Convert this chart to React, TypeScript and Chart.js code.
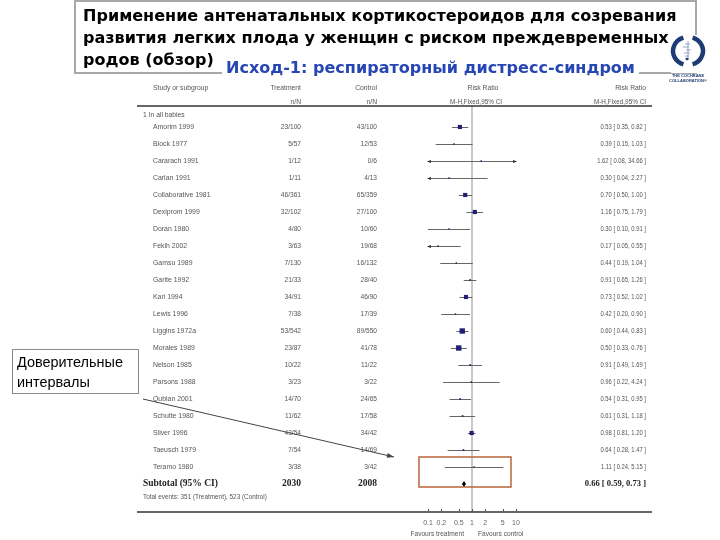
import React, { useEffect, useRef } from "react";
import { Chart, registerables } from "chart.js";

Chart.register(...registerables);

// ---------- data ----------
const studies = [
  "Amorim 1999", "Block 1977", "Cararach 1991", "Carlan 1991", "Collaborative 1981",
  "Dexiprom 1999", "Doran 1980", "Fekih 2002", "Gamsu 1989", "Garite 1992",
  "Kari 1994", "Lewis 1996", "Liggins 1972a", "Morales 1989", "Nelson 1985",
  "Parsons 1988", "Qublan 2001", "Schutte 1980", "Silver 1996", "Taeusch 1979", "Teramo 1980",
];
const treatment = [
  "23/100", "5/57", "1/12", "1/11", "46/361", "32/102", "4/80", "3/63", "7/130", "21/33",
  "34/91", "7/38", "53/542", "23/87", "10/22", "3/23", "14/70", "11/62", "43/54", "7/54", "3/38",
];
const control = [
  "43/100", "12/53", "0/6", "4/13", "65/359", "27/100", "10/60", "19/68", "16/132", "28/40",
  "46/90", "17/39", "89/550", "41/78", "11/22", "3/22", "24/65", "17/58", "34/42", "14/69", "3/42",
];
const riskRatio = [0.53, 0.39, 1.62, 0.30, 0.70, 1.16, 0.30, 0.17, 0.44, 0.91, 0.73, 0.42, 0.60, 0.50, 0.91, 0.96, 0.54, 0.61, 0.98, 0.64, 1.11];
const ciLow = [0.35, 0.15, 0.08, 0.04, 0.50, 0.75, 0.10, 0.05, 0.19, 0.65, 0.52, 0.20, 0.44, 0.33, 0.49, 0.22, 0.31, 0.31, 0.81, 0.28, 0.24];
const ciHigh = [0.82, 1.03, 34.66, 2.27, 1.00, 1.79, 0.91, 0.55, 1.04, 1.26, 1.02, 0.90, 0.83, 0.76, 1.69, 4.24, 0.95, 1.18, 1.20, 1.47, 5.15];
// relative weights
const weights = [12, 1, 1, 1, 12, 12, 1, 1, 1, 2, 12, 1, 20, 20, 2, 1, 2, 2, 12, 2, 1];
const subtotalRR = [0.66, 0.59, 0.73];
const subtotalN = ["2030", "2008"];
const totalEvents = [351, 523];
const xTicks = [0.1, 0.2, 0.5, 1, 2, 5, 10];

// ---------- helpers ----------
const NAVY = "#1f1f78";
const GRAY_TXT = "#555";
const fmt = (v: number) => v.toFixed(2);

function txt(
  ctx: CanvasRenderingContext2D, s: string, x: number, y: number,
  align: CanvasTextAlign, font: string, color: string, sx = 1
) {
  ctx.save();
  ctx.font = font;
  ctx.fillStyle = color;
  ctx.textAlign = align;
  ctx.textBaseline = "middle";
  ctx.translate(x, y);
  ctx.scale(sx, 1);
  ctx.fillText(s, 0, 0);
  ctx.restore();
}

function fitBold(ctx: CanvasRenderingContext2D, s: string, family: string, base: number, target: number) {
  ctx.save();
  ctx.font = `bold ${base}px ${family}`;
  const w = ctx.measureText(s).width;
  ctx.restore();
  return base * target / w;
}

function drawLogo(ctx: CanvasRenderingContext2D, cx: number, cy: number) {
  ctx.save();
  ctx.fillStyle = "#fff";
  ctx.fillRect(cx - 17, cy - 16, 40, 38);
  ctx.strokeStyle = "#1d3c74";
  ctx.lineWidth = 4.5;
  ctx.beginPath();
  ctx.ellipse(cx, cy, 15, 14, 0, Math.PI * 0.6, Math.PI * 1.4);
  ctx.stroke();
  ctx.beginPath();
  ctx.ellipse(cx, cy, 15, 14, 0, -Math.PI * 0.4, Math.PI * 0.4);
  ctx.stroke();
  ctx.strokeStyle = "#7f95bd";
  ctx.lineWidth = 0.8;
  ctx.beginPath();
  ctx.moveTo(cx, cy - 10);
  ctx.lineTo(cx, cy + 9);
  const bars = [[-7, -3, 2], [-4, -5, 1], [-1, -2, 3], [2, -4, 2], [5, -3, 1]];
  bars.forEach(([dy, a, b]) => {
    ctx.moveTo(cx + a, cy + dy);
    ctx.lineTo(cx + b, cy + dy);
  });
  ctx.stroke();
  ctx.fillStyle = "#1d3c74";
  ctx.beginPath();
  ctx.moveTo(cx - 3, cy + 8);
  ctx.lineTo(cx - 1, cy + 6.5);
  ctx.lineTo(cx + 1, cy + 8);
  ctx.lineTo(cx - 1, cy + 9.5);
  ctx.closePath();
  ctx.fill();
  ctx.font = 'bold 4px "Liberation Sans"';
  ctx.textAlign = "center";
  ctx.textBaseline = "middle";
  ctx.fillText("THE COCHRANE", cx, cy + 25);
  ctx.fillText("COLLABORATION®", cx, cy + 30);
  ctx.restore();
}

const forestPlugin = {
  id: "forest",
  beforeDatasetsDraw(chart: any) {
    const ctx: CanvasRenderingContext2D = chart.ctx;
    const xs = chart.scales.x;
    const ys = chart.scales.y;
    const area = chart.chartArea;
    const xmin = xs.min, xmax = xs.max;
    ctx.save();
    // line of no effect
    ctx.strokeStyle = "#c8c8c8";
    ctx.lineWidth = 2;
    const x1 = xs.getPixelForValue(1);
    ctx.beginPath();
    ctx.moveTo(x1, area.top);
    ctx.lineTo(x1, area.bottom);
    ctx.stroke();
    // whiskers
    ctx.strokeStyle = "#666";
    ctx.fillStyle = "#333";
    ctx.lineWidth = 1;
    riskRatio.forEach((_, i) => {
      const y = Math.round(ys.getPixelForValue(i)) + 0.5;
      const a = xs.getPixelForValue(Math.max(ciLow[i], xmin));
      const b = xs.getPixelForValue(Math.min(ciHigh[i], xmax));
      ctx.beginPath();
      ctx.moveTo(a, y);
      ctx.lineTo(b, y);
      ctx.stroke();
      if (ciLow[i] < xmin) {
        ctx.beginPath();
        ctx.moveTo(a - 1, y);
        ctx.lineTo(a + 3, y - 1.5);
        ctx.lineTo(a + 3, y + 1.5);
        ctx.closePath();
        ctx.fill();
      }
      if (ciHigh[i] > xmax) {
        ctx.beginPath();
        ctx.moveTo(b + 1, y);
        ctx.lineTo(b - 3, y - 1.5);
        ctx.lineTo(b - 3, y + 1.5);
        ctx.closePath();
        ctx.fill();
      }
    });
    // subtotal diamond
    const yd = ys.getPixelForValue(studies.length);
    const [m, lo, hi] = subtotalRR;
    ctx.fillStyle = "#000";
    ctx.beginPath();
    ctx.moveTo(xs.getPixelForValue(lo), yd);
    ctx.lineTo(xs.getPixelForValue(m), yd - 3);
    ctx.lineTo(xs.getPixelForValue(hi), yd);
    ctx.lineTo(xs.getPixelForValue(m), yd + 3);
    ctx.closePath();
    ctx.fill();
    ctx.restore();
  },
  afterDraw(chart: any) {
    const ctx: CanvasRenderingContext2D = chart.ctx;
    const xs = chart.scales.x;
    const ys = chart.scales.y;
    const area = chart.chartArea;
    const F = '"Liberation Sans", Arial, sans-serif';
    const small = `7.5px ${F}`;
    const colStudy = 153, colGroup = 143, colT = 301, colC = 377, colR = 646;
    const xl = 137, xr = 652;
    const Y = (v: number) => ys.getPixelForValue(v);

    ctx.save();
    // header
    txt(ctx, "Study or subgroup", colStudy, Y(-2.29), "left", small, GRAY_TXT, 0.9);
    txt(ctx, "Treatment", colT, Y(-2.29), "right", small, GRAY_TXT, 0.9);
    txt(ctx, "n/N", colT, Y(-1.47), "right", small, GRAY_TXT, 0.9);
    txt(ctx, "Control", colC, Y(-2.29), "right", small, GRAY_TXT, 0.9);
    txt(ctx, "n/N", colC, Y(-1.47), "right", small, GRAY_TXT, 0.9);
    const xc = (xs.left + xs.right) / 2;
    txt(ctx, "Risk Ratio", xc + 11, Y(-2.29), "center", small, GRAY_TXT, 0.9);
    txt(ctx, "M-H,Fixed,95% CI", xc + 4, Y(-1.47), "center", small, GRAY_TXT, 0.85);
    txt(ctx, "Risk Ratio", colR, Y(-2.29), "right", small, GRAY_TXT, 0.9);
    txt(ctx, "M-H,Fixed,95% CI", colR, Y(-1.47), "right", small, GRAY_TXT, 0.85);
    ctx.strokeStyle = "#333";
    ctx.lineWidth = 1.5;
    ctx.beginPath();
    ctx.moveTo(xl, area.top);
    ctx.lineTo(xr, area.top);
    ctx.stroke();

    txt(ctx, "1 In all babies", colGroup, Y(-0.7), "left", small, GRAY_TXT, 0.9);
    studies.forEach((s, i) => {
      const y = Y(i);
      txt(ctx, s, colStudy, y, "left", small, GRAY_TXT, 0.92);
      txt(ctx, treatment[i], colT, y, "right", small, GRAY_TXT, 0.88);
      txt(ctx, control[i], colC, y, "right", small, GRAY_TXT, 0.88);
      txt(ctx, `${fmt(riskRatio[i])} [ ${fmt(ciLow[i])}, ${fmt(ciHigh[i])} ]`, colR, y, "right", small, GRAY_TXT, 0.78);
    });
    const ys2 = Y(studies.length);
    const serif = `bold 9.5px "Liberation Serif", serif`;
    txt(ctx, "Subtotal (95% CI)", colGroup, ys2, "left", serif, "#222");
    txt(ctx, subtotalN[0], colT, ys2, "right", serif, "#222");
    txt(ctx, subtotalN[1], colC, ys2, "right", serif, "#222");
    txt(ctx, `${fmt(subtotalRR[0])} [ ${fmt(subtotalRR[1])}, ${fmt(subtotalRR[2])} ]`, colR, ys2, "right", `bold 9px "Liberation Serif", serif`, "#222", 0.95);
    txt(ctx, `Total events: ${totalEvents[0]} (Treatment), ${totalEvents[1]} (Control)`, colGroup, Y(studies.length + 0.76), "left", small, GRAY_TXT, 0.85);

    // axis line and tick marks
    ctx.strokeStyle = "#333";
    ctx.lineWidth = 1.5;
    ctx.beginPath();
    ctx.moveTo(xl, area.bottom);
    ctx.lineTo(xr, area.bottom);
    ctx.stroke();
    ctx.lineWidth = 1;
    ctx.strokeStyle = "#555";
    ctx.beginPath();
    xTicks.forEach((v) => {
      const x = Math.round(xs.getPixelForValue(v)) + 0.5;
      ctx.moveTo(x, area.bottom);
      ctx.lineTo(x, area.bottom - 3);
    });
    ctx.stroke();
    const x1 = xs.getPixelForValue(1);
    txt(ctx, "Favours treatment", x1 - 8, area.bottom + 22, "right", small, GRAY_TXT, 0.88);
    txt(ctx, "Favours control", x1 + 6, area.bottom + 22, "left", small, GRAY_TXT, 0.88);

    // highlight box around last study + subtotal
    ctx.strokeStyle = "#b8653c";
    ctx.lineWidth = 1.5;
    ctx.strokeRect(419, 457, 92, 30);

    // annotation box
    ctx.fillStyle = "#fff";
    ctx.fillRect(12, 349, 127, 45);
    ctx.strokeStyle = "#8a8a8a";
    ctx.lineWidth = 1;
    ctx.strokeRect(12.5, 349.5, 126, 44);
    ctx.font = `15px ${F}`;
    const annSize = 15 * 106 / ctx.measureText("Доверительные").width;
    txt(ctx, "Доверительные", 17, 363, "left", `${annSize}px ${F}`, "#000");
    txt(ctx, "интервалы", 17, 383, "left", `${annSize}px ${F}`, "#000");
    // arrow
    ctx.strokeStyle = "#444";
    ctx.fillStyle = "#444";
    ctx.lineWidth = 1;
    const ax0 = 143, ay0 = 399, ax1 = 394, ay1 = 457;
    ctx.beginPath();
    ctx.moveTo(ax0, ay0);
    ctx.lineTo(ax1, ay1);
    ctx.stroke();
    const ang = Math.atan2(ay1 - ay0, ax1 - ax0);
    ctx.beginPath();
    ctx.moveTo(ax1, ay1);
    ctx.lineTo(ax1 - 7 * Math.cos(ang) + 2.5 * Math.sin(ang), ay1 - 7 * Math.sin(ang) - 2.5 * Math.cos(ang));
    ctx.lineTo(ax1 - 7 * Math.cos(ang) - 2.5 * Math.sin(ang), ay1 - 7 * Math.sin(ang) + 2.5 * Math.cos(ang));
    ctx.closePath();
    ctx.fill();

    // title box
    const TF = '"DejaVu Sans", Verdana, sans-serif';
    const line1 = "Применение антенатальных кортикостероидов для созревания";
    const line2 = "развития легких плода у женщин с риском преждевременных";
    const tsize = fitBold(ctx, line2, TF, 16, 586);
    ctx.fillStyle = "#fff";
    ctx.fillRect(74, 0, 622, 73);
    ctx.strokeStyle = "#a8a8a8";
    ctx.lineWidth = 2;
    ctx.strokeRect(75, 1, 621, 72);
    const tf = `bold ${tsize}px ${TF}`;
    txt(ctx, line1, 83, 16.5, "left", tf, "#000");
    txt(ctx, line2, 83, 39, "left", tf, "#000");
    txt(ctx, "родов (обзор)", 83, 61, "left", tf, "#000");
    const sub = "Исход-1: респираторный дистресс-синдром";
    ctx.font = tf;
    const sw = ctx.measureText(sub).width;
    ctx.fillStyle = "#fff";
    ctx.fillRect(222, 60, sw + 8, 18);
    txt(ctx, sub, 226, 68.5, "left", tf, "#2646b4");
    drawLogo(ctx, 688, 51);
    ctx.restore();
  },
};

export default function App() {
  const ref = useRef<HTMLCanvasElement>(null);
  useEffect(() => {
    const canvas = ref.current;
    if (!canvas) return;
    const chart = new Chart(canvas, {
      type: "scatter",
      data: {
        datasets: [
          {
            data: riskRatio.map((v, i) => ({ x: v, y: i })),
            pointStyle: "rect",
            pointRadius: weights.map((w) => Math.max(1, Math.sqrt(w) * 0.85)),
            backgroundColor: NAVY,
            borderWidth: 0,
          },
        ],
      },
      options: {
        responsive: false,
        animation: false,
        events: [],
        devicePixelRatio: 1,
        layout: { padding: { left: 428, right: 204, top: 106, bottom: 0 } },
        plugins: { legend: { display: false }, tooltip: { enabled: false }, title: { display: false } },
        scales: {
          x: {
            type: "logarithmic",
            min: 0.1,
            max: 10,
            afterBuildTicks: (s: any) => {
              s.ticks = xTicks.map((v) => ({ value: v }));
            },
            afterFit: (s: any) => {
              s.height = 28;
            },
            grid: { display: false, drawTicks: false },
            border: { display: false },
            ticks: {
              autoSkip: false,
              maxRotation: 0,
              padding: 7,
              color: "#666",
              font: { family: '"Liberation Sans", Arial, sans-serif', size: 7 },
              callback: (v: any) => String(v),
            },
          },
          y: {
            type: "linear",
            reverse: true,
            min: -1.235,
            max: 22.647,
            display: false,
          },
        },
      },
      plugins: [forestPlugin],
    } as any);
    return () => chart.destroy();
  }, []);
  return (
    <div style={{ position: "absolute", left: 0, top: 0, width: 720, height: 540, background: "#fff" }}>
      <canvas ref={ref} width={720} height={540} style={{ display: "block", width: 720, height: 540 }} />
    </div>
  );
}
